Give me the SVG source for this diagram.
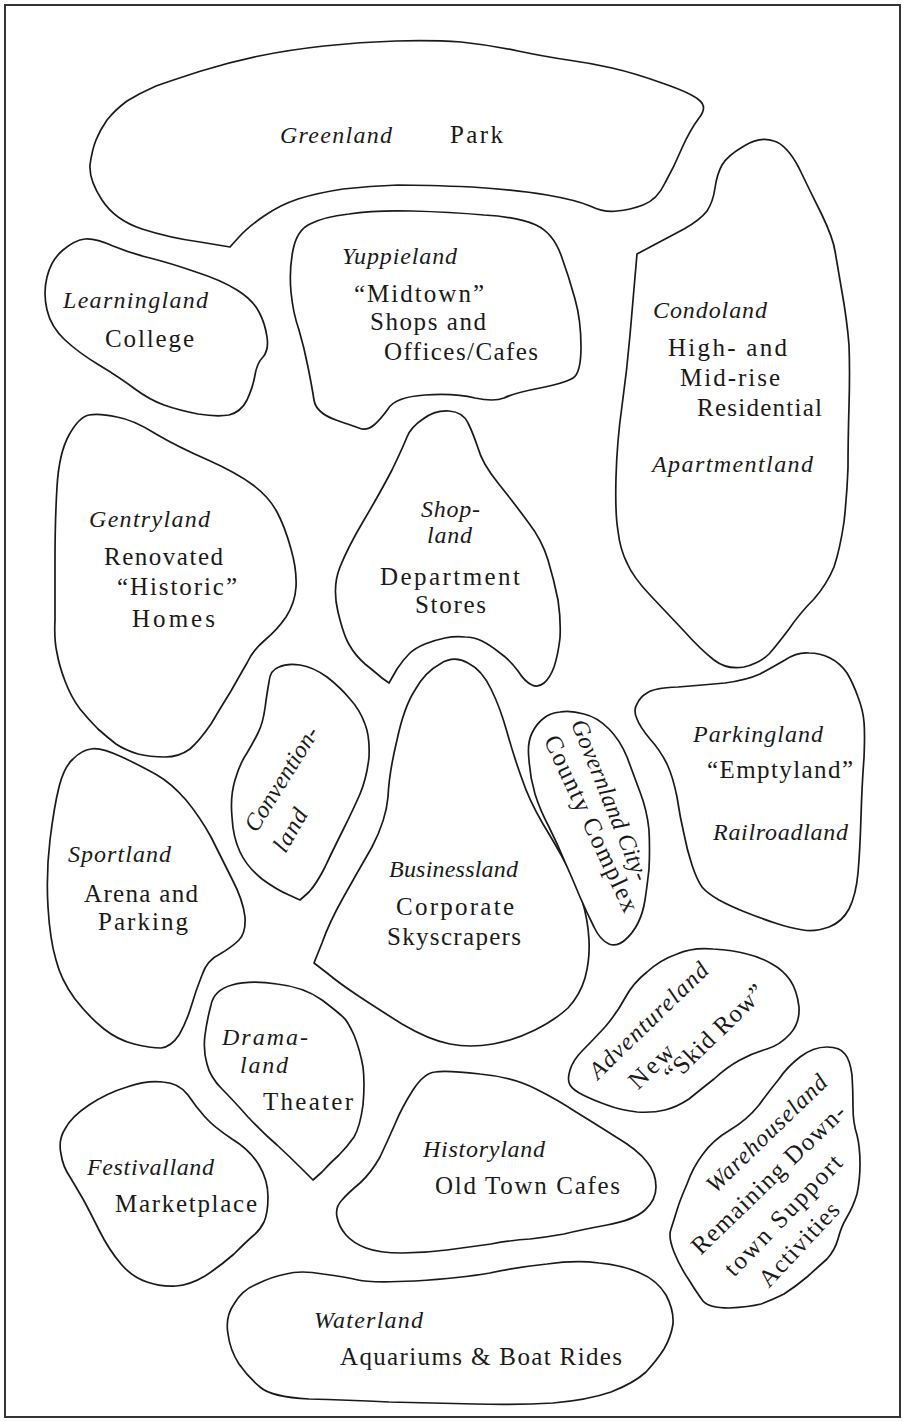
<svg xmlns="http://www.w3.org/2000/svg" width="903" height="1421" viewBox="0 0 903 1421">
<style>
.blob{fill:#fff;stroke:#1a1a1a;stroke-width:1.7;stroke-linejoin:round}
text{font-family:"Liberation Serif","Times New Roman",serif;fill:#1a1a1a}
.it{font-style:italic;font-size:24px}
.rm{font-size:25px}
</style>
<rect x="0" y="0" width="903" height="1421" fill="#fff"/>
<rect x="5" y="5" width="895" height="1412" fill="none" stroke="#333" stroke-width="2"/>
<g id="greenland"><path class="blob" d="M90,165 Q89,180 102,200 Q115,220 142,229 Q170,238 200,242 L230,247 L239,237 Q248,227 264,216 Q280,205 298,199 Q317,193 343,189 Q370,186 398,185 Q426,185 472,187 Q518,190 547,195 Q576,200 590,206 Q605,213 617,211 Q630,210 643,205 Q657,200 665,183 Q674,167 682,148 Q690,130 699,118 Q708,107 699,100 Q691,93 662,83 Q634,73 612,68 Q590,63 568,60 Q547,57 518,51 Q490,45 461,42 Q432,40 396,41 Q360,42 324,46 Q288,50 259,56 Q230,62 201,71 Q173,80 156,86 Q140,93 127,101 Q115,110 107,120 Q100,130 96,140 Q92,150 90,165 Z"/>
<text class="it" x="280" y="143" textLength="112">Greenland</text><text class="rm" x="450" y="143" textLength="53">Park</text></g>
<g id="learningland"><path class="blob" d="M47,277 Q51,260 63,250 Q75,240 85,239 Q95,238 113,246 Q130,253 150,258 Q170,263 196,272 Q221,280 237,290 Q253,300 259,312 Q265,323 267,337 Q269,350 263,357 Q257,363 255,375 Q253,387 247,400 Q241,412 229,415 Q217,417 198,414 Q178,410 164,405 Q150,400 135,389 Q119,377 99,365 Q79,353 65,340 Q51,327 47,310 Q43,293 47,277 Z"/>
<text class="it" x="63" y="308" textLength="145">Learningland</text><text class="rm" x="105" y="347" textLength="89">College</text></g>
<g id="yuppieland"><path class="blob" d="M293,250 Q297,230 310,224 Q323,217 349,214 Q374,210 412,211 Q450,212 484,215 Q518,217 536,225 Q553,233 561,255 Q569,277 575,299 Q581,320 581,347 Q581,373 573,378 Q565,383 540,388 Q514,393 504,398 Q494,402 475,398 Q455,393 425,395 Q395,397 388,409 Q380,420 374,425 Q368,430 362,429 Q356,427 336,420 Q316,413 314,400 Q312,387 308,367 Q304,347 299,330 Q293,313 291,292 Q289,270 293,250 Z"/>
<text class="it" x="342" y="264" textLength="115">Yuppieland</text><text class="rm" x="354" y="302" textLength="130">“Midtown”</text><text class="rm" x="370" y="330" textLength="116">Shops and</text><text class="rm" x="384" y="360" textLength="154">Offices/Cafes</text></g>
<g id="condoland"><path class="blob" d="M635,277 L637,254 L652,246 Q667,238 684,229 Q700,220 707,211 Q713,202 715,188 Q717,174 722,165 Q727,156 744,146 Q760,136 774,141 Q787,145 799,168 Q810,191 822,215 Q833,238 835,251 Q837,263 842,292 Q847,320 849,345 Q850,370 849,406 Q848,441 848,468 Q847,495 844,522 Q840,549 834,567 Q827,584 814,599 Q800,613 789,629 Q777,645 769,654 Q760,663 744,667 Q727,670 714,660 Q700,649 684,631 Q667,613 650,595 Q633,577 627,563 Q620,549 618,531 Q615,513 616,477 Q617,441 622,406 Q627,370 630,335 Q633,299 635,277 Z"/>
<text class="it" x="653" y="318" textLength="114">Condoland</text><text class="rm" x="668" y="356" textLength="119">High- and</text><text class="rm" x="680" y="386" textLength="100">Mid-rise</text><text class="rm" x="697" y="416" textLength="125">Residential</text><text class="it" x="652" y="472" textLength="161">Apartmentland</text></g>
<g id="gentryland"><path class="blob" d="M69,435 Q79,417 89,415 Q99,413 117,417 Q134,420 156,434 Q178,447 208,460 Q237,473 253,485 Q269,497 277,512 Q285,527 291,549 Q297,570 296,587 Q295,603 286,617 Q277,630 265,640 Q253,650 247,663 Q240,675 231,691 Q221,707 211,724 Q200,740 190,749 Q179,757 165,757 Q150,757 138,754 Q125,750 116,744 Q107,737 98,729 Q89,720 80,709 Q71,697 65,681 Q59,665 57,653 Q54,640 55,620 Q55,600 55,560 Q55,520 57,487 Q59,453 69,435 Z"/>
<text class="it" x="89" y="527" textLength="121">Gentryland</text><text class="rm" x="104" y="565" textLength="119">Renovated</text><text class="rm" x="117" y="595" textLength="120">“Historic”</text><text class="rm" x="132" y="627" textLength="83">Homes</text></g>
<g id="shopland"><path class="blob" d="M407,437 Q411,427 423,419 Q435,410 449,411 Q463,412 468,423 Q473,433 478,448 Q482,463 498,483 Q514,503 528,522 Q542,540 548,560 Q554,580 558,600 Q561,620 560,638 Q558,655 554,667 Q550,678 544,683 Q538,688 532,685 Q525,682 518,671 Q510,660 500,653 Q490,645 482,641 Q474,637 465,637 Q455,636 445,638 Q435,640 425,644 Q415,648 409,654 Q403,660 397,669 L389,683 L382,678 Q375,672 365,664 Q355,655 350,646 Q344,637 338,612 Q332,587 340,567 Q348,547 364,520 Q380,493 392,470 Q403,447 407,437 Z"/>
<text class="it" x="421" y="517" textLength="59">Shop-</text><text class="it" x="427" y="543" textLength="45">land</text><text class="rm" x="380" y="585" textLength="140">Department</text><text class="rm" x="415" y="613" textLength="71">Stores</text></g>
<g id="conventionland"><path class="blob" d="M269,682 Q270,670 279,667 Q287,663 300,665 Q313,667 327,677 Q340,687 350,699 Q360,710 365,724 Q370,737 369,757 Q367,777 360,794 Q353,810 343,830 Q333,850 325,867 Q317,883 309,892 L300,900 L289,895 Q277,890 262,879 Q247,867 240,852 Q233,837 232,817 Q230,797 235,780 Q240,763 247,753 Q253,743 258,733 Q263,723 265,708 Q267,693 269,682 Z"/>
<text class="it" text-anchor="middle" transform="translate(288,783) rotate(-58)" textLength="119">Convention-</text><text class="it" text-anchor="middle" transform="translate(297,834) rotate(-60)" textLength="46">land</text></g>
<g id="businessland"><path class="blob" d="M440,664 Q454,655 468,663 Q482,670 491,689 Q500,707 507,732 Q514,757 522,779 Q529,800 543,824 Q557,847 566,864 Q575,880 582,900 Q588,920 589,940 Q590,960 585,978 Q580,995 568,1008 Q555,1020 535,1030 Q515,1040 493,1044 Q470,1048 450,1044 Q429,1040 402,1024 Q375,1007 357,995 Q339,983 327,973 L314,963 L322,943 Q329,923 343,898 Q357,873 372,847 Q386,820 388,797 Q389,773 397,740 Q404,707 415,690 Q425,672 440,664 Z"/>
<text class="it" x="389" y="877" textLength="129">Businessland</text><text class="rm" x="396" y="915" textLength="118">Corporate</text><text class="rm" x="387" y="945" textLength="134">Skyscrapers</text></g>
<g id="governland"><path class="blob" d="M544,718 Q550,713 560,712 Q570,710 584,714 Q597,717 609,729 Q620,740 627,757 Q633,773 640,792 Q647,810 649,830 Q650,850 649,869 Q647,887 645,900 Q643,913 638,923 Q633,933 625,940 Q617,947 609,944 Q600,940 594,927 Q587,913 580,897 Q573,880 565,862 Q557,843 549,827 Q540,810 535,794 Q530,777 529,760 Q527,743 532,733 Q537,723 544,718 Z"/>
<text class="it" text-anchor="middle" transform="translate(603,803) rotate(68)" textLength="172">Governland City-</text><text class="rm" text-anchor="middle" transform="translate(584,827) rotate(65)" textLength="192">County Complex</text></g>
<g id="parkingland"><path class="blob" d="M637,704 Q640,697 647,693 Q653,688 678,687 Q703,685 725,683 Q747,680 760,674 Q773,667 785,660 Q797,652 809,653 Q820,653 830,658 Q840,663 847,673 Q853,683 858,697 Q863,710 864,722 Q865,733 864,758 Q862,783 861,817 Q860,850 858,873 Q856,895 849,909 Q842,922 829,927 Q815,932 803,930 Q790,928 775,923 Q760,918 745,912 Q730,906 719,900 Q707,893 702,887 Q697,880 692,865 Q687,850 684,834 Q680,817 677,797 Q673,777 667,764 Q660,750 650,739 Q640,727 637,719 Q633,710 637,704 Z"/>
<text class="it" x="693" y="742" textLength="130">Parkingland</text><text class="rm" x="707" y="778" textLength="146">“Emptyland”</text><text class="it" x="713" y="840" textLength="135">Railroadland</text></g>
<g id="sportland"><path class="blob" d="M73,759 Q82,750 91,749 Q100,747 122,757 Q143,767 157,775 Q171,783 186,800 Q200,817 211,837 Q221,857 232,879 Q243,900 245,917 Q246,933 239,940 Q232,947 220,954 Q207,960 202,975 Q196,990 191,1007 Q186,1023 179,1035 Q171,1047 161,1048 Q150,1048 134,1044 Q118,1040 104,1029 Q89,1017 75,999 Q61,980 56,960 Q50,940 48,907 Q46,873 50,840 Q54,807 59,787 Q64,767 73,759 Z"/>
<text class="it" x="68" y="862" textLength="103">Sportland</text><text class="rm" x="84" y="902" textLength="114">Arena and</text><text class="rm" x="98" y="930" textLength="90">Parking</text></g>
<g id="dramaland"><path class="blob" d="M211,1005 Q214,990 232,985 Q250,980 277,984 Q304,987 322,1000 Q339,1013 343,1017 Q347,1020 354,1035 Q360,1050 363,1067 Q365,1083 363,1105 Q360,1127 354,1137 Q347,1147 339,1155 Q330,1163 322,1172 L313,1180 L302,1169 Q290,1157 277,1145 Q263,1133 248,1117 Q233,1100 222,1089 Q210,1077 207,1064 Q203,1050 205,1035 Q207,1020 211,1005 Z"/>
<text class="it" x="222" y="1045" textLength="86">Drama-</text><text class="it" x="240" y="1073" textLength="48">land</text><text class="rm" x="263" y="1110" textLength="90">Theater</text></g>
<g id="adventureland"><path class="blob" d="M570,1085 Q567,1080 570,1070 Q573,1060 583,1050 Q593,1040 605,1027 Q617,1013 625,998 Q633,983 647,972 Q660,960 677,954 Q693,947 713,949 Q733,950 747,954 Q760,957 772,964 Q783,970 790,980 Q797,990 799,1007 Q800,1023 790,1034 Q780,1045 767,1049 Q753,1053 740,1060 Q727,1067 714,1079 Q700,1090 689,1099 Q677,1107 665,1110 Q653,1113 637,1112 Q620,1110 607,1105 Q593,1100 583,1095 Q573,1090 570,1085 Z"/>
<text class="it" text-anchor="middle" transform="translate(654,1026) rotate(-44)" textLength="156">Adventureland</text><text class="rm" text-anchor="middle" transform="translate(657,1072) rotate(-44)" textLength="53">New</text><text class="rm" text-anchor="middle" transform="translate(720,1039) rotate(-44)" textLength="129">“Skid Row”</text></g>
<g id="festivalland"><path class="blob" d="M127,1087 Q147,1080 163,1082 Q179,1083 188,1095 Q196,1107 205,1117 Q214,1127 232,1139 Q250,1150 259,1165 Q268,1180 268,1197 Q268,1213 264,1222 Q260,1230 254,1235 Q248,1240 234,1254 Q219,1267 205,1276 Q190,1285 176,1286 Q161,1287 147,1282 Q132,1277 121,1264 Q109,1250 99,1230 Q89,1210 83,1199 Q76,1187 70,1177 Q63,1167 61,1154 Q58,1140 65,1129 Q71,1117 89,1105 Q107,1093 127,1087 Z"/>
<text class="it" x="87" y="1175" textLength="127">Festivalland</text><text class="rm" x="115" y="1212" textLength="142">Marketplace</text></g>
<g id="historyland"><path class="blob" d="M413,1090 Q424,1073 435,1072 Q446,1070 480,1074 Q513,1077 536,1089 Q558,1100 576,1112 Q594,1123 616,1137 Q638,1150 647,1162 Q656,1173 656,1187 Q656,1200 645,1210 Q634,1220 607,1225 Q580,1230 564,1234 Q547,1237 530,1239 Q513,1240 491,1244 Q469,1247 447,1250 Q424,1253 402,1253 Q379,1253 366,1248 Q353,1243 346,1235 Q339,1227 337,1217 Q335,1207 342,1200 Q348,1193 360,1183 Q371,1173 380,1157 Q388,1140 395,1124 Q402,1107 413,1090 Z"/>
<text class="it" x="423" y="1157" textLength="122">Historyland</text><text class="rm" x="435" y="1194" textLength="185">Old Town Cafes</text></g>
<g id="warehouseland"><path class="blob" d="M800,1057 Q813,1047 827,1047 Q840,1047 845,1054 Q850,1060 852,1075 Q853,1090 853,1107 Q853,1123 857,1135 Q860,1147 860,1164 Q860,1180 857,1194 Q853,1207 847,1217 Q841,1227 838,1239 Q835,1250 827,1259 Q818,1267 807,1277 Q795,1287 784,1294 Q772,1300 761,1304 Q749,1307 729,1308 Q709,1308 703,1301 Q697,1293 689,1280 Q680,1267 674,1252 Q668,1237 671,1229 Q674,1220 677,1210 Q680,1200 687,1184 Q693,1167 703,1154 Q713,1140 730,1130 Q747,1120 759,1105 Q770,1090 779,1079 Q787,1067 800,1057 Z"/>
<text class="it" text-anchor="middle" transform="translate(772,1139) rotate(-44)" textLength="158">Warehouseland</text><text class="rm" text-anchor="middle" transform="translate(774,1185) rotate(-44)" textLength="204">Remaining Down-</text><text class="rm" text-anchor="middle" transform="translate(789,1221) rotate(-46)" textLength="158">town Support</text><text class="rm" text-anchor="middle" transform="translate(805,1250) rotate(-47)" textLength="106">Activities</text></g>
<g id="waterland"><path class="blob" d="M286,1274 Q300,1270 323,1274 Q346,1277 358,1280 Q369,1283 415,1281 Q461,1278 490,1273 Q518,1267 547,1264 Q576,1260 599,1263 Q622,1265 640,1273 Q657,1280 666,1295 Q674,1310 673,1324 Q671,1337 664,1349 Q657,1360 646,1372 Q634,1383 611,1392 Q588,1400 553,1403 Q518,1405 475,1404 Q432,1403 389,1402 Q346,1400 309,1399 Q271,1397 260,1387 Q248,1377 239,1364 Q230,1350 228,1334 Q225,1317 234,1304 Q242,1290 257,1284 Q271,1277 286,1274 Z"/>
<text class="it" x="314" y="1328" textLength="109">Waterland</text><text class="rm" x="340" y="1365" textLength="282">Aquariums &amp; Boat Rides</text></g>
<g id="connectors"></g>
</svg>
